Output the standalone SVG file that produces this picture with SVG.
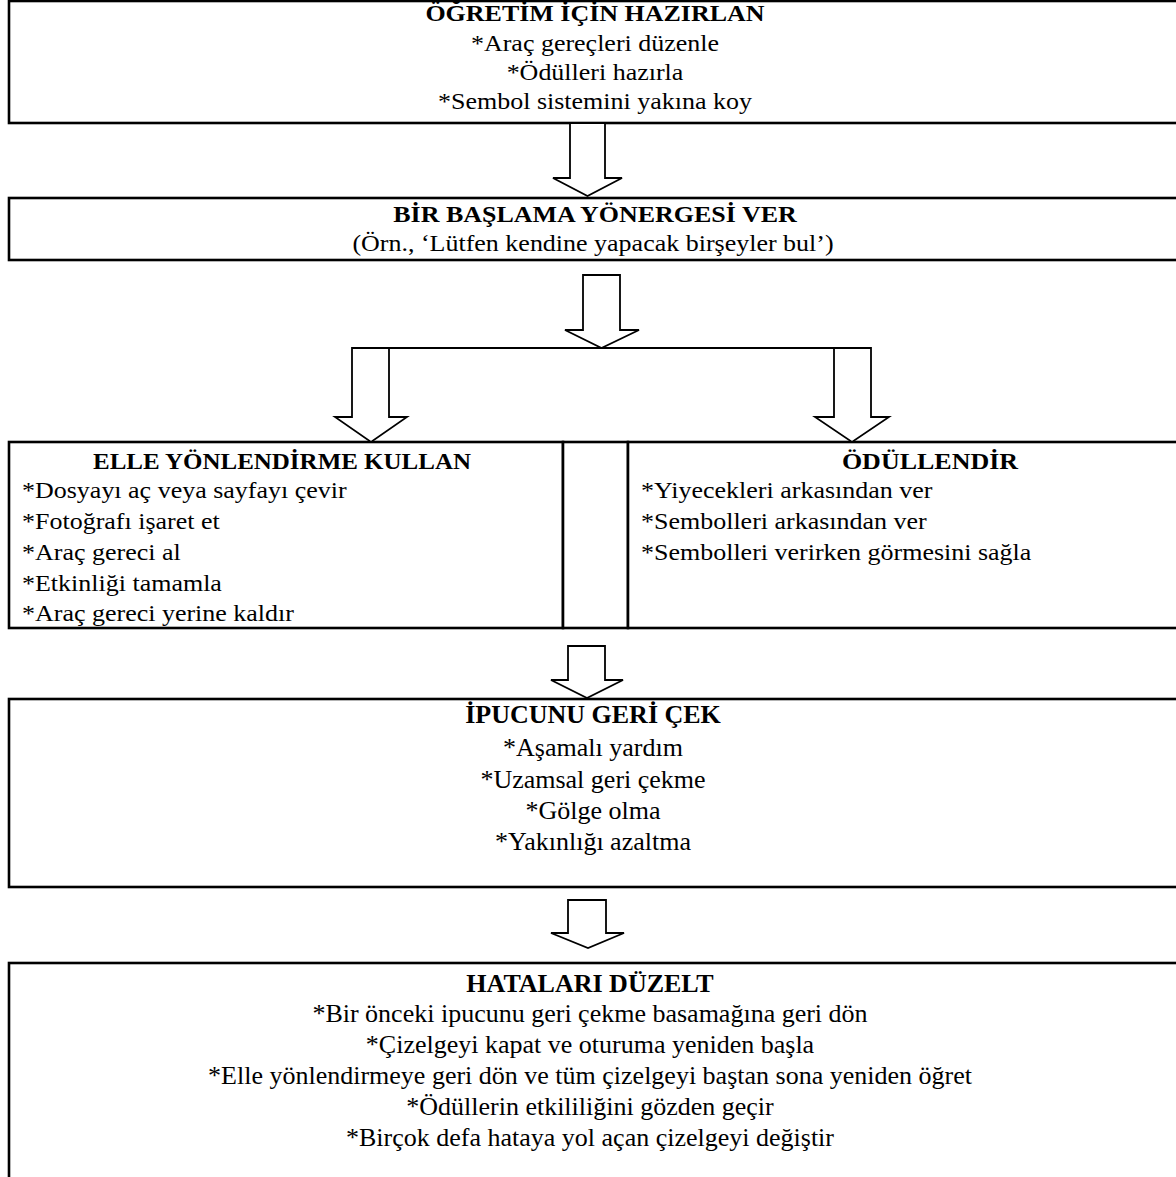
<svg xmlns="http://www.w3.org/2000/svg" width="1176" height="1177" viewBox="0 0 1176 1177">
<style>
  .box { fill: #fff; stroke: #000; stroke-width: 2.6; }
  .arrow { fill: #fff; stroke: #000; stroke-width: 1.8; stroke-linejoin: miter; }
  .line { stroke: #000; stroke-width: 1.8; fill: none; }
  text { font-family: "Liberation Serif", "Times New Roman", serif; font-size: 26px; fill: #000; }
  .t { font-weight: bold; }
  .c { text-anchor: middle; }
</style>
<rect width="1176" height="1177" fill="#fff"/>

<g id="n1">
  <rect class="box" x="9" y="1" width="1200" height="122"/>
  <text class="t c" transform="matrix(1 0 0 0.85 0 21)" x="595" y="0">ÖĞRETİM İÇİN HAZIRLAN</text>
  <text class="c" transform="matrix(1 0 0 0.85 0 51)" x="595" y="0">*Araç gereçleri düzenle</text>
  <text class="c" transform="matrix(1 0 0 0.85 0 80)" x="595" y="0">*Ödülleri hazırla</text>
  <text class="c" transform="matrix(1 0 0 0.85 0 109)" x="595" y="0">*Sembol sistemini yakına koy</text>
</g>

<g id="n2">
  <rect class="box" x="9" y="198" width="1200" height="62"/>
  <text class="t c" transform="matrix(1 0 0 0.85 0 222)" x="595" y="0">BİR BAŞLAMA YÖNERGESİ VER</text>
  <text class="c" transform="matrix(1 0 0 0.85 0 251)" x="593" y="0">(Örn., ‘Lütfen kendine yapacak birşeyler bul’)</text>
</g>

<g id="n3">
  <rect class="box" x="9" y="442" width="554" height="186"/>
  <text class="t c" transform="matrix(1 0 0 0.9 0 469)" x="282" y="0" style="font-size:25px">ELLE YÖNLENDİRME KULLAN</text>
  <text transform="matrix(1 0 0 0.9 0 498)" x="22" y="0">*Dosyayı aç veya sayfayı çevir</text>
  <text transform="matrix(1 0 0 0.9 0 529)" x="22" y="0">*Fotoğrafı işaret et</text>
  <text transform="matrix(1 0 0 0.9 0 560)" x="22" y="0">*Araç gereci al</text>
  <text transform="matrix(1 0 0 0.9 0 591)" x="22" y="0">*Etkinliği tamamla</text>
  <text transform="matrix(1 0 0 0.9 0 621)" x="22" y="0">*Araç gereci yerine kaldır</text>
</g>

<g id="n4">
  <rect class="box" x="563" y="442" width="65" height="186"/>
</g>

<g id="n5">
  <rect class="box" x="628" y="442" width="600" height="186"/>
  <text class="t c" transform="matrix(1 0 0 0.9 0 469)" x="930" y="0">ÖDÜLLENDİR</text>
  <text transform="matrix(1 0 0 0.9 0 498)" x="641" y="0">*Yiyecekleri arkasından ver</text>
  <text transform="matrix(1 0 0 0.9 0 529)" x="641" y="0">*Sembolleri arkasından ver</text>
  <text transform="matrix(1 0 0 0.9 0 560)" x="641" y="0">*Sembolleri verirken görmesini sağla</text>
</g>

<g id="n6">
  <rect class="box" x="9" y="699" width="1200" height="188"/>
  <text class="t c" x="593" y="723">İPUCUNU GERİ ÇEK</text>
  <text class="c" x="593" y="756">*Aşamalı yardım</text>
  <text class="c" x="593" y="788">*Uzamsal geri çekme</text>
  <text class="c" x="593" y="819">*Gölge olma</text>
  <text class="c" x="593" y="850">*Yakınlığı azaltma</text>
</g>

<g id="n7">
  <rect class="box" x="9" y="963" width="1200" height="260"/>
  <text class="t c" x="590" y="992">HATALARI DÜZELT</text>
  <text class="c" x="590" y="1022">*Bir önceki ipucunu geri çekme basamağına geri dön</text>
  <text class="c" x="590" y="1053">*Çizelgeyi kapat ve oturuma yeniden başla</text>
  <text class="c" x="590" y="1084">*Elle yönlendirmeye geri dön ve tüm çizelgeyi baştan sona yeniden öğret</text>
  <text class="c" x="590" y="1115">*Ödüllerin etkililiğini gözden geçir</text>
  <text class="c" x="590" y="1146">*Birçok defa hataya yol açan çizelgeyi değiştir</text>
</g>

<g id="connectors">
  <polygon class="arrow" points="570,123 605,123 605,178 622,178 587.5,196 553,178 570,178"/>
  <polygon class="arrow" points="583,275 620,275 620,330 639,330 601.5,348 565,330 583,330"/>
  <line class="line" x1="352" y1="348" x2="871" y2="348"/>
  <polygon class="arrow" points="352,348 389,348 389,417 407,417 371,442 335,417 352,417"/>
  <polygon class="arrow" points="834,348 871,348 871,417 889,417 852,442 815,417 834,417"/>
  <polygon class="arrow" points="568,646 605,646 605,680 623,680 587,698 551,680 568,680"/>
  <polygon class="arrow" points="568,900 606,900 606,933 624,933 588,948 551,933 568,933"/>
</g>
</svg>
